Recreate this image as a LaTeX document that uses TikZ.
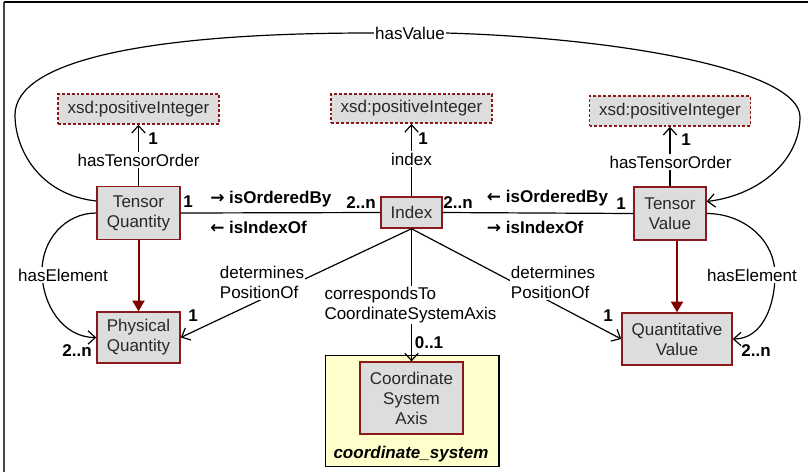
\documentclass[tikz,border=0pt]{standalone}
\usepackage{fontspec}
\setmainfont{Liberation Sans}
\newfontfamily\arrowfont{DejaVu Sans}
\usetikzlibrary{arrows.meta,calc}
\definecolor{boxred}{RGB}{140,25,25}
\definecolor{boxgray}{RGB}{221,221,221}
\definecolor{pkgyellow}{RGB}{255,255,204}
\definecolor{arrred}{RGB}{128,0,0}
\definecolor{framegray}{RGB}{70,70,70}
\definecolor{boxtext}{RGB}{40,40,40}
\begin{document}
\begin{tikzpicture}[x=0.75pt,y=-0.75pt, font=\fontsize{12.75}{15}\selectfont,
 cls/.style={draw=boxred, line width=1.1pt, fill=boxgray, text=boxtext, align=center, inner sep=0pt},
 dt/.style={cls, dash pattern=on 2.2pt off 1.5pt},
 conn/.style={line width=0.9pt, -{Straight Barb[length=5.5pt,width=10pt]}},
 plain/.style={line width=0.9pt},
 lbl/.style={fill=white, inner sep=1pt, align=left},
 mult/.style={font=\fontsize{12.75}{15}\selectfont\bfseries, inner sep=0pt},
 inh/.style={draw=arrred, line width=1.5pt, -{Triangle[length=8pt,width=9pt]}}
]
\useasboundingbox (0,0) rectangle (808,472);
% frame
\draw[framegray, line width=1.5pt] (4,2) -- (4,472);
\draw[black, line width=0.9pt] (4,2) -- (808,2);

% nodes
\node[dt, minimum width=120.75pt, minimum height=22.5pt] (x1) at (138.5,109) {xsd:positiveInteger};
\node[dt, minimum width=120.75pt, minimum height=22pt] (x2) at (411.5,108.5) {xsd:positiveInteger};
\node[dt, minimum width=120.75pt, minimum height=22.5pt] (x3) at (670,111) {xsd:positiveInteger};
\node[cls, minimum width=62.25pt, minimum height=39.75pt] (tq) at (138.5,213) {Tensor\\Quantity};
\node[cls, minimum width=45.75pt, minimum height=23.25pt] (ix) at (411.5,212.5) {Index};
\node[cls, minimum width=54pt, minimum height=39.75pt] (tv) at (670,213.5) {Tensor\\Value};
\node[cls, minimum width=62.25pt, minimum height=38.25pt] (pq) at (138.5,337.5) {Physical\\Quantity};
\node[cls, minimum width=82.5pt, minimum height=39pt] (qv) at (677,339) {Quantitative\\Value};
\node[draw=black, line width=0.9pt, fill=pkgyellow, minimum width=130pt, minimum height=83.25pt, inner sep=0pt] (pkg) at (412.4,411.2) {};
\node[cls, line width=0.9pt, minimum width=77.25pt, minimum height=54pt] (csa) at (411.5,398) {Coordinate\\System\\Axis};
\node[font=\fontsize{12.75}{15}\selectfont\bfseries\itshape, inner sep=0pt] (pkgl) at (411,454) {coordinate\_system};

% connectors
\draw[conn] (tq.north) -- (x1.south);
\draw[conn] (ix.north) -- (x2.south);
\draw[conn] (tv.north) -- (x3.south);
\draw[plain] (tq.east) -- (ix.west);
\draw[plain] (ix.east) -- (tv.west);
\draw[inh] (tq.south) -- (pq.north);
\draw[inh] (qv.north |- tv.south) -- (qv.north);
\draw[conn] (ix.south) -- (pq.east);
\draw[conn] (ix.south) -- (qv.west);
\draw[conn] (ix.south) -- (csa.north);
\draw[conn] (tq.west) to[out=180,in=90] (42,271) to[out=-90,in=180] (pq.west);
\draw[conn] (tv.east) to[out=0,in=90] (775,275) to[out=-90,in=0] (qv.east);
\draw[conn] ([yshift=9pt]tq.west) .. controls (40,195) and (15,150) .. (15,115)
  .. controls (15,60) and (150,33) .. (370,33) -- (446,33)
  .. controls (620,38) and (800,70) .. (800,117)
  .. controls (800,160) and (760,195) .. ([yshift=9pt]tv.east);

% labels
\node[lbl] (lhv) at (410,33) {hasValue};
\node[lbl] (lhe1) at (63,275) {hasElement};
\node[lbl] (lhe2) at (752,275) {hasElement};
\node[lbl] (ldp1) at (262,282) {determines\\PositionOf};
\node[lbl] (ldp2) at (553,282) {determines\\PositionOf};
\node[lbl] (lct) at (410.5,305) {correspondsTo\\CoordinateSystemAxis};
\node[lbl] (lto1) at (138.5,160) {hasTensorOrder};
\node[lbl] (lidx) at (411.5,159) {index};
\node[lbl] (lto2) at (670.5,162) {hasTensorOrder};

% role names
\node[mult, anchor=west] (r1) at (210,199) {{\arrowfont →} isOrderedBy};
\node[mult, anchor=west] (r2) at (210,227) {{\arrowfont ←} isIndexOf};
\node[mult, anchor=west] (r3) at (486.7,198) {{\arrowfont ←} isOrderedBy};
\node[mult, anchor=west] (r4) at (486.7,227) {{\arrowfont →} isIndexOf};

% multiplicities
\node[mult] (m1) at (153,139) {1};
\node[mult] (m2) at (423,139) {1};
\node[mult] (m3) at (686,140) {1};
\node[mult] (m4) at (188,202) {1};
\node[mult] (m5) at (361,203) {2..n};
\node[mult] (m6) at (458,203) {2..n};
\node[mult] (m7) at (621,204) {1};
\node[mult] (m8) at (193,316) {1};
\node[mult] (m9) at (77,351) {2..n};
\node[mult] (m10) at (608,316) {1};
\node[mult] (m11) at (756,351) {2..n};
\node[mult] (m12) at (429,343) {0..1};
\end{tikzpicture}
\end{document}
